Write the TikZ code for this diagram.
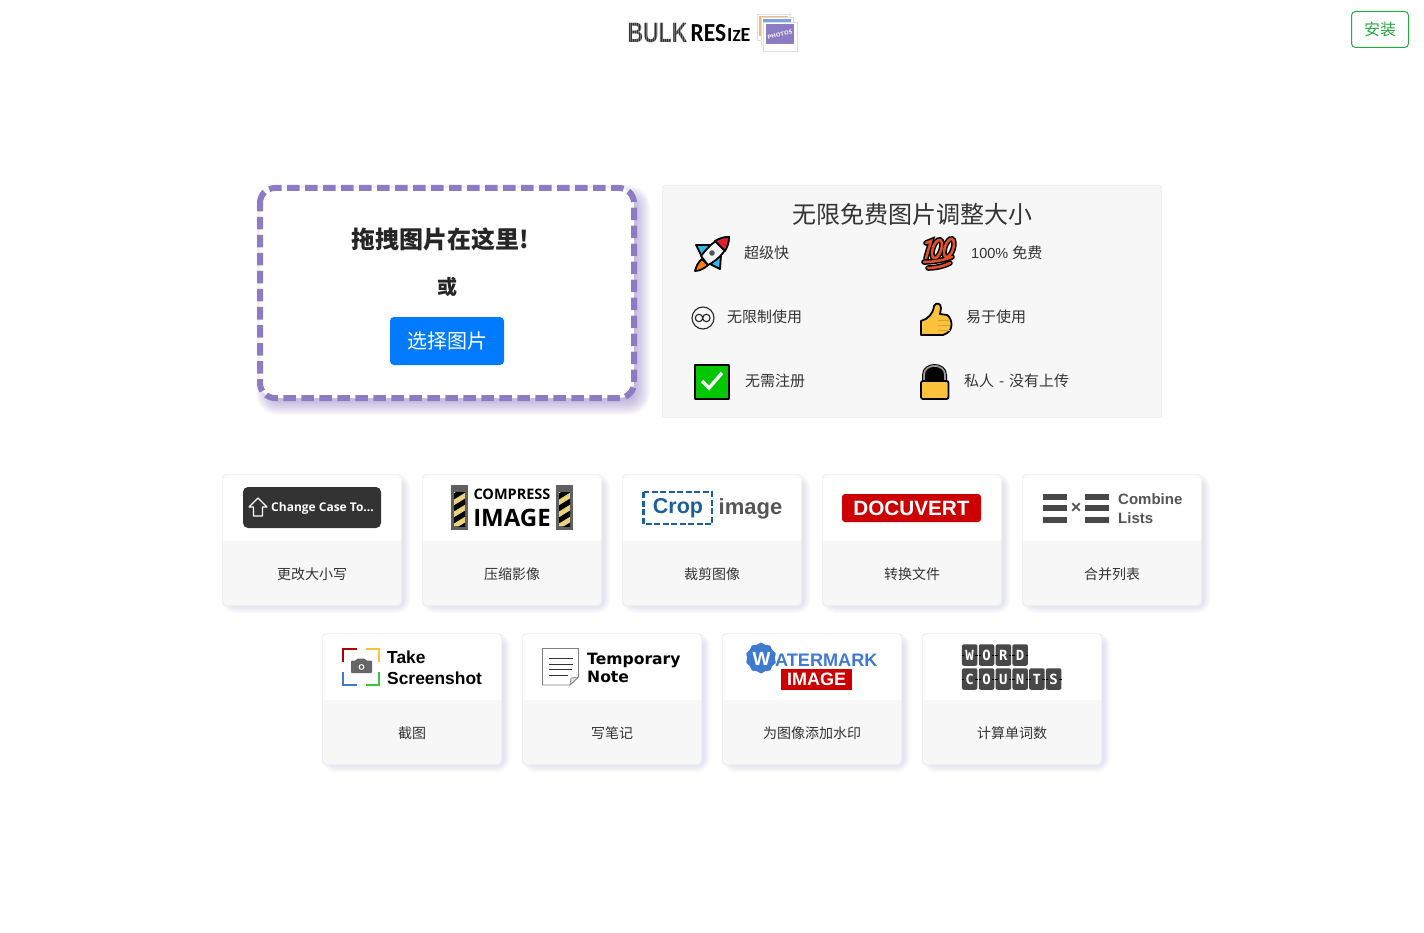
\documentclass[tikz,border=0pt]{standalone}
\usepackage{fontspec}
\usepackage{tikz}
\usetikzlibrary{shapes.geometric}
\setmainfont{Liberation Sans}
\newfontfamily\cjk{Noto Sans CJK SC}
\newfontfamily\opensans{Open Sans}
\newfontfamily\carlito{Carlito}
\newfontfamily\dejasans{DejaVu Sans}
\newfontfamily\dejamono{DejaVu Sans Mono}
\newcommand{\fsize}[1]{\fontsize{#1}{#1}\selectfont}
\definecolor{zonepurple}{HTML}{8B7CC3}
\definecolor{panelgrey}{HTML}{F7F7F7}
\definecolor{edgegrey}{HTML}{DEDEDE}
\definecolor{inkgrey}{HTML}{333333}
\definecolor{btnblue}{HTML}{007BFF}
\definecolor{btngreen}{HTML}{28A745}
\definecolor{logogrey}{HTML}{555555}
\definecolor{cropblue}{HTML}{1F5F99}
\definecolor{docred}{HTML}{CC0000}
\definecolor{markblue}{HTML}{3F7AD1}
\definecolor{thumbyellow}{HTML}{FCC13D}
\definecolor{thumborange}{HTML}{E2A02B}
\definecolor{stripeyellow}{HTML}{ECD27A}
\definecolor{rocketblue}{HTML}{35B4EE}
\definecolor{rocketred}{HTML}{E0202F}
\definecolor{hundredred}{HTML}{E2502B}
\definecolor{cardshadow}{HTML}{8C8CC8}
\newcommand{\softshadow}[7]{%
  \foreach \s in {0,...,#6}
    \fill[#5,opacity=#7,rounded corners=6pt+\s*1pt] (#1-\s,#2-\s) rectangle (#3+\s,#4+\s);}

\begin{document}
\begin{tikzpicture}[x=1pt,y=-1pt]
    \tikzstyle{txt}=[inner sep=0pt,text=inkgrey]
    \tikzstyle{feature}=[txt,anchor=west,font=\cjk\fsize{15}]
    \tikzstyle{cardlabel}=[txt,font=\cjk\fsize{14}]
    \tikzstyle{logotxt}=[inner sep=0pt,font=\bfseries\fsize{17}]
    \tikzstyle{icon}=[draw=black,line width=1.8pt,line join=round]
    \tikzstyle{tile}=[fill=logogrey!85!black,rounded corners=2pt,minimum width=15.5pt,minimum height=21.5pt,inner sep=0pt,text=white,font=\dejamono\bfseries\fsize{14}]
    \useasboundingbox (0,0) rectangle (1424,933);
    \fill[white] (0,0) rectangle (1424,933);

    % header
    \node[inner sep=0pt,text=inkgrey,xscale=.77,font=\bfseries\fsize{28}] (bulk) at (657.5,33) {BULK};
    \draw[white,opacity=.3,line width=.5pt,step=2] (626,20) grid (690,46);
    \node[inner sep=0pt,anchor=base west,xscale=.9,font=\carlito\bfseries\fsize{26}] (res) at (690.5,42) {RES};
    \node[inner sep=0pt,anchor=base west,font=\carlito\bfseries\fsize{20}] (ize) at (727,42) {I{\fsize{17}Z}E};
    \draw[edgegrey,fill=white] (757,14) rectangle (790,40);
    \fill[orange!50!brown!55] (759,16) rectangle (788,36);
    \draw[edgegrey,fill=white] (761,17) rectangle (793,45);
    \fill[markblue!70] (763,19) rectangle (791,40);
    \draw[edgegrey,fill=white] (763,22) rectangle (797,51);
    \fill[zonepurple] (766,24) rectangle (794,44);
    \node[inner sep=0pt,text=white!85!zonepurple,rotate=14,font=\dejasans\bfseries\fsize{5.5}] (photos) at (780,34.5) {PHOTOS};
    \node[draw=btngreen,rounded corners=4pt,line width=1pt,minimum width=57pt,minimum height=36pt,inner sep=0pt,text=btngreen,font=\cjk\fsize{16}] (install) at (1380,29.5) {安装};

    % drop zone
    \softshadow{272}{201}{634}{399}{zonepurple}{16}{.04}
    \draw[zonepurple,fill=white,line width=6pt,rounded corners=15pt,dash pattern=on 12.5pt off 5.5pt,dash phase=4pt] (260,188) rectangle (634,398);
    \node[txt,text=black!85,font=\cjk\bfseries\fsize{24}] (droptxt) at (440,239) {拖拽图片在这里!};
    \node[txt,text=black!85,font=\cjk\bfseries\fsize{20}] (ortxt) at (447,287) {或};
    \node[fill=btnblue,rounded corners=4pt,minimum width=114pt,minimum height=48pt,inner sep=0pt,text=white,font=\cjk\fsize{20}] (choose) at (447,341) {选择图片};

    % feature panel
    \draw[edgegrey,fill=panelgrey,rounded corners=3pt] (662.5,185.5) rectangle (1161.5,417.5);
    \node[txt,font=\cjk\fsize{24}] (title) at (912,214) {无限免费图片调整大小};
    \node[feature] (fast) at (744,253) {超级快};
    \node[feature,font=\fsize{14.5}] (free) at (971,253) {100\% {\cjk\fsize{15}免费}};
    \node[feature] (unlimited) at (727,317) {无限制使用};
    \node[feature] (easy) at (966,317) {易于使用};
    \node[feature] (noreg) at (745,381) {无需注册};
    \node[feature] (private) at (964,381) {私人\kern1.5pt{} -\kern1.5pt{} 没有上传};

    % rocket
    \draw[icon,fill=rocketblue] (696,245) -- (711,245) -- (721,255) -- (720,269) -- (708,263) -- (702,257) -- cycle;
    \draw[icon,fill=orange] (702,259) .. controls (698,262) and (696,267) .. (695,271) .. controls (700,271) and (705,268) .. (708,265) -- cycle;
    \draw[icon,fill=white!92!gray] (729,237) .. controls (719,237) and (711,243) .. (701,256) -- (708,265) .. controls (720,259) and (729,248) .. (729,237) -- cycle;
    \draw[icon,fill=rocketred] (729,237) .. controls (724,237) and (720,238) .. (715,241) -- (725,251) .. controls (728,246) and (729,241) .. (729,237) -- cycle;
    \fill[logogrey] (712,253) circle (2.8);

    % hundred
    \foreach \col/\w in {black/5.6pt,hundredred/2.6pt} {
        \draw[\col,line width=\w,line cap=round] (926,243) -- (931,241) -- (926,258);
        \draw[\col,line width=\w] (937,249) ellipse [x radius=9.5pt,y radius=4.2pt,rotate=72];
        \draw[\col,line width=\w] (949,248) ellipse [x radius=9.5pt,y radius=4.2pt,rotate=72];
        \draw[\col,line width=\w,line cap=round] (924,262) .. controls (934,262) and (944,260) .. (952,257);
        \draw[\col,line width=\w,line cap=round] (928,268) .. controls (936,268) and (944,266) .. (950,263);
    }

    % infinity
    \draw[black!85,line width=1.1pt] (703,318) circle (11);
    \draw[black!85,line width=1.1pt] (699,318) circle (3.7) (706.4,318) circle (3.7);

    % thumb
    \draw[icon,fill=thumbyellow] (921,335) -- (921,321) .. controls (928,319) and (933,314) .. (934,306) .. controls (936,302) and (941,303) .. (941,308) -- (940,314) -- (947,315) .. controls (953,319) and (953,330) .. (947,333) -- (943,335) -- cycle;
    \foreach \y in {320,325,330}
        \draw[thumborange,line width=1pt] (938,\y) -- (950,\y);

    % check
    \draw[icon,fill=green!78!black] (695,365) rectangle (729,399);
    \draw[white,line width=3.4pt] (702,381) -- (709,388) -- (722,373);

    % lock
    \draw[gray!80,fill=black,line width=1.6pt] (924,381) -- (924,375) .. controls (924,363) and (945,363) .. (945,375) -- (945,381);
    \draw[icon,line width=1pt,fill=none] (922.5,381) -- (922.5,375) .. controls (922.5,361) and (946.5,361) .. (946.5,375) -- (946.5,381);
    \draw[icon,fill=thumbyellow,rounded corners=2pt] (921,381) rectangle (948.5,399);

    % cards
    \foreach \x/\y/\lab/\nm in {222/474/更改大小写/case, 422/474/压缩影像/compress, 622/474/裁剪图像/crop, 822/474/转换文件/convert, 1022/474/合并列表/combine, 322/633/截图/shot, 522/633/写笔记/note, 722/633/为图像添加水印/mark, 922/633/计算单词数/count} {
        \softshadow{\x+7}{\y+7}{\x+181}{\y+132}{cardshadow}{7}{.03}
        \fill[white,rounded corners=4pt] (\x,\y) rectangle (\x+180,\y+132);
        \begin{scope}
            \clip[rounded corners=4pt] (\x,\y) rectangle (\x+180,\y+132);
            \fill[panelgrey] (\x,\y+67) rectangle (\x+180,\y+132);
        \end{scope}
        \draw[edgegrey,rounded corners=4pt] (\x+.5,\y+.5) rectangle (\x+179.5,\y+131.5);
        \node[cardlabel] (label-\nm) at (\x+90,\y+100) {\lab};
    }

    % change case
    \node[fill=inkgrey,rounded corners=5pt,minimum width=138pt,minimum height=41pt,inner sep=0pt] (caselogo) at (312,507.5) {};
    \node[inner sep=0pt,text=white,font=\opensans\bfseries\fsize{12}] (casetxt) at (322.5,508) {Change Case To...};
    \draw[white,line width=1.1pt,line join=round] (258,498) -- (267,507) -- (262.5,507) -- (262.5,516) -- (253.5,516) -- (253.5,507) -- (249,507) -- cycle;

    % compress
    \foreach \bx in {451,556} {
        \fill[gray!75!black] (\bx,485) rectangle (\bx+17,530);
        \begin{scope}
            \clip (\bx+3,492) rectangle (\bx+14,526);
            \fill[stripeyellow] (\bx+3,492) rectangle (\bx+14,526);
            \foreach \sy in {494,506,518,530}
                \fill[black] (\bx+2,\sy) -- (\bx+15,\sy-8) -- (\bx+15,\sy-2) -- (\bx+2,\sy+6) -- cycle;
        \end{scope}
    }
    \node[logotxt,font=\opensans\bfseries\fsize{14.5}] (comptxt) at (512,494.5) {COMPRESS};
    \node[logotxt,font=\opensans\bfseries\fsize{24}] (imgtxt) at (512,518) {IMAGE};

    % crop
    \draw[cropblue,line width=2.2pt,dash pattern=on 6pt off 2.5pt] (643.5,492) rectangle (712,524);
    \node[logotxt,text=cropblue,font=\bfseries\fsize{21.5}] (croptxt) at (678,508.5) {Crop};
    \node[logotxt,text=logogrey,font=\bfseries\fsize{22}] (imagetxt) at (750.5,508.5) {image};

    % docuvert
    \node[fill=docred,rounded corners=3pt,minimum width=139pt,minimum height=28pt,inner sep=0pt,text=white,font=\bfseries\fsize{20.7}] (docu) at (911.5,508) {DOCUVERT};

    % combine
    \foreach \bx in {1043,1085}
        \foreach \by in {494,505,517}
            \fill[logogrey!85!black] (\bx,\by) rectangle (\bx+24,\by+6);
    \node[logotxt,text=logogrey,font=\bfseries\fsize{18}] (times) at (1076,508) {×};
    \node[logotxt,anchor=west,text=logogrey,font=\bfseries\fsize{15}] (combtxt) at (1118,499.5) {Combine};
    \node[logotxt,anchor=west,text=logogrey,font=\bfseries\fsize{15}] (listtxt) at (1118,518) {Lists};

    % screenshot
    \draw[docred!85!black,line width=2.4pt] (343,662) -- (343,649) -- (357,649);
    \draw[thumbyellow,line width=2.4pt] (366,649) -- (379,649) -- (379,662);
    \draw[markblue,line width=2.4pt] (343,672) -- (343,685) -- (357,685);
    \draw[green!50!gray,line width=2.4pt] (366,685) -- (379,685) -- (379,672);
    \fill[logogrey!90,rounded corners=1pt] (351,660.5) -- (356,660.5) -- (357,658.5) -- (365,658.5) -- (366,660.5) -- (372,660.5) -- (372,673) -- (351,673) -- cycle;
    \draw[white,line width=1pt] (361.5,667) circle (2.4);
    \node[logotxt,anchor=west,font=\bfseries\fsize{17.4}] (taketxt) at (387,657) {Take};
    \node[logotxt,anchor=west,font=\bfseries\fsize{17.4}] (shottxt) at (387,678) {Screenshot};

    % note
    \draw[gray,line width=.8pt,fill=white] (542.5,648.5) -- (578.5,648.5) -- (578.5,677) -- (570,685) -- (542.5,685) -- cycle;
    \draw[gray,line width=.6pt,fill=edgegrey] (578.5,677) -- (571,678) -- (570,685) -- cycle;
    \foreach \ly/\lx in {658/573,664/573,669.5/572,675/568}
        \draw[inkgrey,line width=1pt] (549,\ly) -- (\lx,\ly);
    \node[logotxt,anchor=west,font=\dejasans\bfseries\fsize{15.6}] (temptxt) at (587,660) {Temporary};
    \node[logotxt,anchor=west,font=\dejasans\bfseries\fsize{15.6}] (notetxt) at (587,677) {Note};

    % watermark
    \node[star,star points=10,star point ratio=1.12,fill=markblue,minimum size=31pt,inner sep=0pt] (badge) at (761,658) {};
    \node[logotxt,text=white,font=\bfseries\fsize{19}] (wtxt) at (761.5,658.5) {W};
    \node[logotxt,anchor=west,text=markblue,font=\bfseries\fsize{18.1}] (atxt) at (775,660) {ATERMARK};
    \node[fill=docred,minimum width=71pt,minimum height=21pt,inner sep=0pt,text=white,font=\bfseries\fsize{18}] (markimg) at (816.5,679.5) {IMAGE};

    % word counts
    \foreach \i/\c in {0/W,1/O,2/R,3/D} {
        \node[tile] (word-\i) at (969.7+16.8*\i,655) {\c};
        \draw[black,line width=1pt] (word-\i.west) -- ++(2.5,0) (word-\i.east) -- ++(-2.5,0);
    }
    \foreach \i/\c in {0/C,1/O,2/U,3/N,4/T,5/S} {
        \node[tile] (cnt-\i) at (969.7+16.8*\i,679) {\c};
        \draw[black,line width=1pt] (cnt-\i.west) -- ++(2.5,0) (cnt-\i.east) -- ++(-2.5,0);
    }
\end{tikzpicture}
\end{document}
